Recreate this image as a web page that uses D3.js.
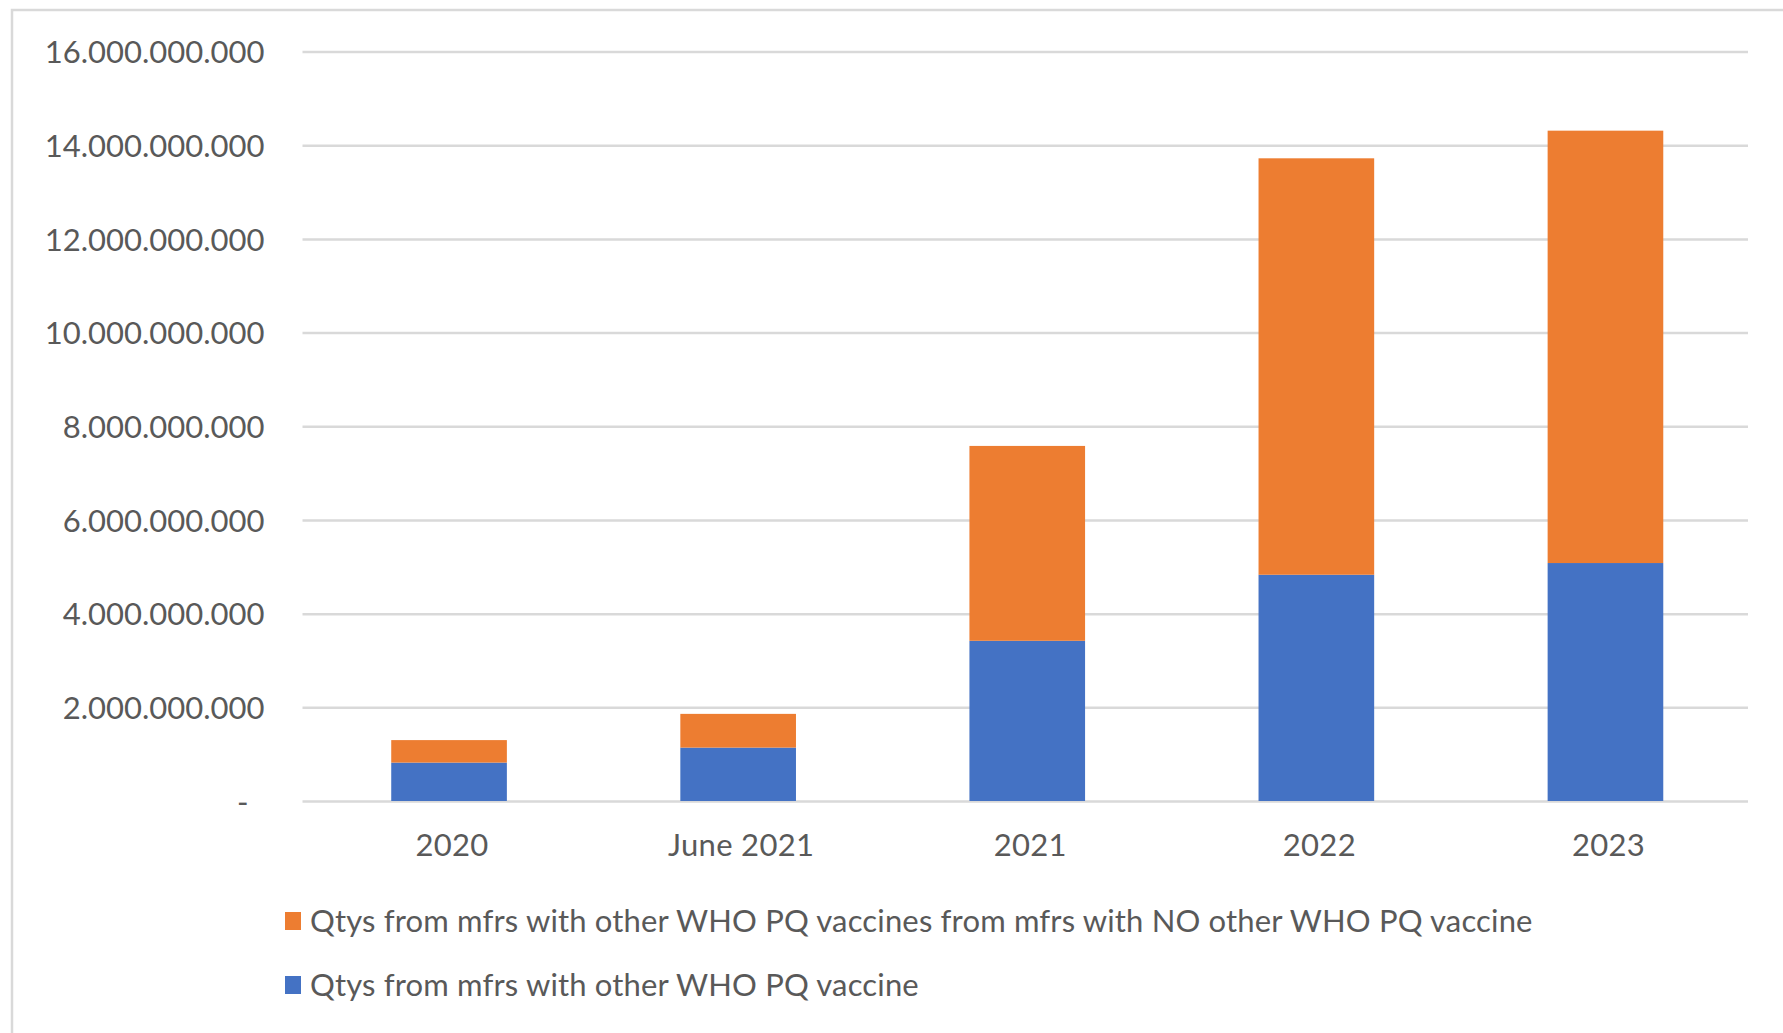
<!DOCTYPE html>
<html>
<head>
<meta charset="utf-8">
<script src="https://cdn.jsdelivr.net/npm/d3@7"></script>
<style>
  html, body { margin: 0; padding: 0; background: #ffffff; }
  svg { display: block; }
  text { font-family: "Lato", "Noto Sans", sans-serif; fill: #595959; }
</style>
</head>
<body>
<svg id="chart" width="1783" height="1033"></svg>
<script>
// Doses by year, split by manufacturer prequalification status
const categories = ["2020", "June 2021", "2021", "2022", "2023"];
const withOtherPQ = [0.82e9, 1.14e9, 3.42e9, 4.83e9, 5.08e9];
const noOtherPQ   = [0.48e9, 0.72e9, 4.16e9, 8.89e9, 9.23e9];
const yTicks = [0, 2e9, 4e9, 6e9, 8e9, 10e9, 12e9, 14e9, 16e9];
const seriesKeys = ["withOther", "noOther"];
const seriesLabels = {
  noOther: "Qtys from mfrs with other WHO PQ vaccines from mfrs with NO other WHO PQ vaccine",
  withOther: "Qtys from mfrs with other WHO PQ vaccine"
};
const seriesColors = { withOther: "#4472c4", noOther: "#ed7d31" };
const legendOrder = ["noOther", "withOther"];

const rows = categories.map((c, i) => ({ category: c, withOther: withOtherPQ[i], noOther: noOtherPQ[i] }));

const svg = d3.select("#chart");
const W = 1783, H = 1033;
const plot = { left: 302.5, right: 1748, top: 51.5, bottom: 801 };
const fontSize = 31;

// Outer chart frame
svg.append("rect")
  .attr("x", 12).attr("y", 10)
  .attr("width", W + 20).attr("height", H + 20)
  .attr("fill", "#ffffff")
  .attr("stroke", "#d9d9d9").attr("stroke-width", 2.5);

const x = d3.scaleBand()
  .domain(categories)
  .range([plot.left + 2, plot.right + 2])
  .paddingInner(0.6)
  .paddingOuter(0.3);

const y = d3.scaleLinear()
  .domain([0, 16e9])
  .range([plot.bottom, plot.top]);

const locale = d3.formatLocale({ decimal: ",", thousands: ".", grouping: [3], currency: ["", ""] });
const fmt = locale.format(",.0f");
const tickFmt = v => v === 0 ? "-" : fmt(v);

// Horizontal gridlines
const grid = svg.append("g")
  .attr("transform", `translate(${plot.left},0)`)
  .call(d3.axisLeft(y).tickValues(yTicks).tickSize(-(plot.right - plot.left)).tickFormat(""));
grid.select(".domain").remove();
grid.selectAll("line").attr("stroke", "#d9d9d9").attr("stroke-width", 2.5);

// Y axis labels
const yAxis = svg.append("g")
  .attr("transform", `translate(${plot.left},0)`)
  .call(d3.axisLeft(y).tickValues(yTicks).tickSize(0).tickPadding(38).tickFormat(tickFmt));
yAxis.select(".domain").remove();
yAxis.selectAll("text")
  .attr("font-size", fontSize)
  .attr("dy", "0.36em")
  .attr("fill", "#595959")
  .attr("font-family", null)
  .attr("transform", d => d === 0 ? "translate(-16,0)" : null);

// Stacked bars
const stacked = d3.stack().keys(seriesKeys)(rows);
svg.append("g")
  .selectAll("g")
  .data(stacked)
  .join("g")
  .attr("fill", d => seriesColors[d.key])
  .selectAll("rect")
  .data(d => d)
  .join("rect")
  .attr("x", d => x(d.data.category))
  .attr("width", x.bandwidth())
  .attr("y", d => y(d[1]))
  .attr("height", d => y(d[0]) - y(d[1]));

// X axis labels
const xAxis = svg.append("g")
  .attr("transform", `translate(3,${plot.bottom})`)
  .call(d3.axisBottom(x).tickSize(0).tickPadding(33));
xAxis.select(".domain").remove();
xAxis.selectAll("text")
  .attr("font-size", fontSize)
  .attr("fill", "#595959")
  .attr("font-family", null)
  .attr("letter-spacing", "0.3px");

// Legend
const legend = svg.append("g").attr("transform", "translate(285,0)");
const legendY = [921, 985];
legendOrder.forEach((key, i) => {
  const g = legend.append("g").attr("transform", `translate(0,${legendY[i]})`);
  g.append("rect")
    .attr("x", 0).attr("y", -9)
    .attr("width", 16).attr("height", 18)
    .attr("fill", seriesColors[key]);
  g.append("text")
    .attr("x", 25).attr("y", 0)
    .attr("dy", "0.36em")
    .attr("font-size", fontSize)
    .attr("letter-spacing", "0.16px")
    .text(seriesLabels[key]);
});
</script>
</body>
</html>
